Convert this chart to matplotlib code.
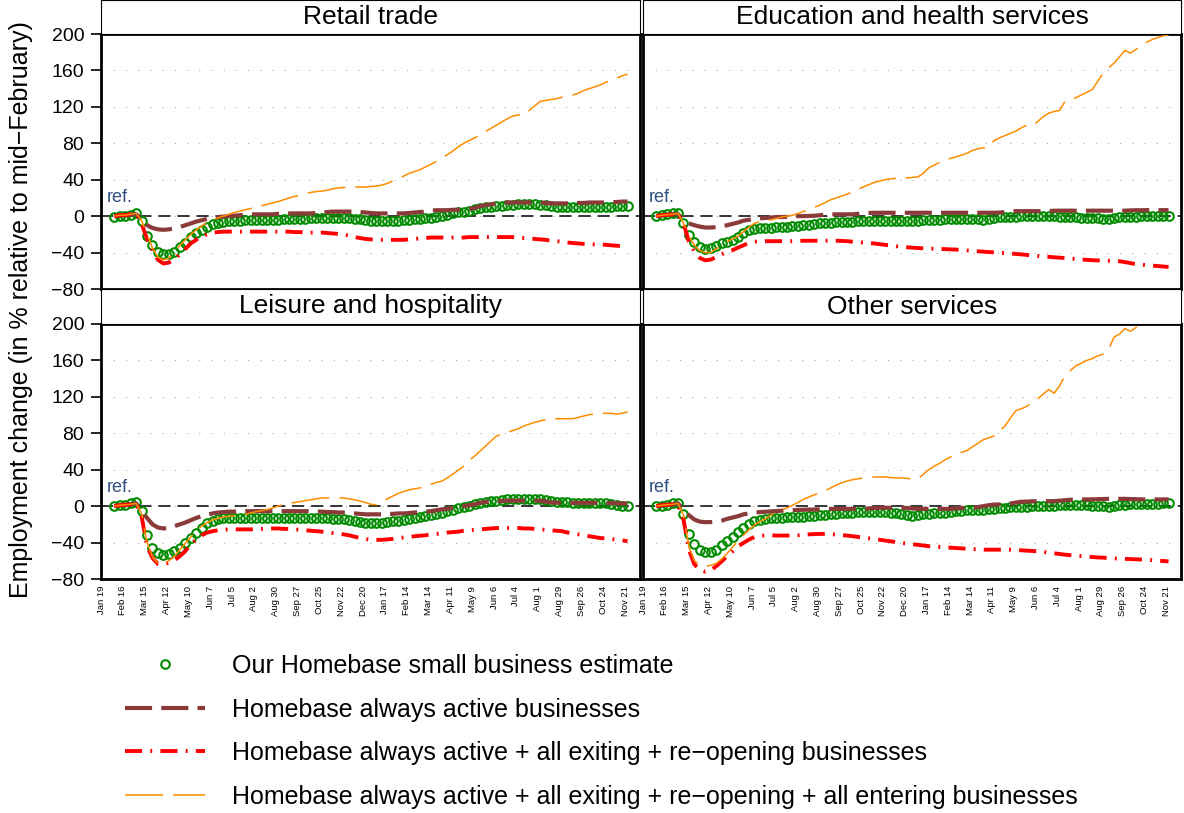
import numpy as np
import pandas as pd
import matplotlib
matplotlib.use("Agg")
import matplotlib.pyplot as plt
from matplotlib.lines import Line2D

plt.rcParams['font.family'] = ['Liberation Sans', 'DejaVu Sans']

# weekly observations, Feb 2020 - Nov 2021
weeks = pd.date_range("2020-02-05", periods=95, freq="7D")
tick_dates = pd.date_range("2020-01-19", periods=25, freq="28D")
tick_labels = [f"{d:%b} {d.day}" for d in tick_dates]
yticks = [-80, -40, 0, 40, 80, 120, 160, 200]

panel_titles = ["Retail trade", "Education and health services",
                "Leisure and hospitality", "Other services"]

legend_labels = [
    "Our Homebase small business estimate",
    "Homebase always active businesses",
    "Homebase always active + all exiting + re\u2212opening businesses",
    "Homebase always active + all exiting + re\u2212opening + all entering businesses",
]

# ---- Retail trade ----
retail_est = [-0.5, 0, 0, 1.5, 3, -5, -22, -32, -39, -42,
              -42, -39, -34, -29, -23, -19, -15, -12, -9, -7,
              -6, -5.5, -5, -5, -4.5, -4.5, -4, -4, -4, -4,
              -4, -3.5, -3.5, -3, -3, -3, -2.5, -2, -2, -2,
              -2, -2, -2, -2.5, -3, -3.5, -4, -5, -5, -5,
              -5, -5, -5, -4.5, -4, -3.5, -3, -2.5, -2, -1,
              0, 1.5, 3, 4, 5, 6, 7.5, 9, 10, 10.5,
              11, 11.5, 12, 12.5, 13, 13, 13, 13, 12.5, 12,
              11, 10.5, 10, 9.5, 9.5, 10, 10, 10, 10.5, 10.5,
              10.5, 10.5, 11, 11, 11]
retail_active = [0, 1, 1, 2, 2, -3, -10, -13, -14.5, -15,
                 -14.5, -13.5, -12, -10, -8, -6, -4.5, -3, -2, -1,
                 -0.5, 0, 0.5, 1, 1.5, 2, 2, 2, 2, 2,
                 2.5, 2.5, 3, 3, 3, 3, 3, 3.5, 4, 4.5,
                 5, 5, 5, 5, 5, 4.5, 4, 3.5, 3, 3,
                 3, 3, 3, 3, 3.5, 4, 4.5, 5, 6, 6.5,
                 6.5, 6.5, 7, 7, 7.5, 8, 9, 11, 12, 13,
                 14, 14.5, 15, 15, 15, 15, 15, 15, 15, 14.5,
                 14, 14, 14, 14, 14, 14.5, 14.5, 15, 15, 15,
                 15, 15.5, 15.5, 16, 16]
retail_exit = [0, 1, 1, 2, 3, -8, -25, -37, -48, -52,
               -51, -47, -42, -36, -30, -26, -22, -20, -18, -17.5,
               -17, -17, -17, -17, -17, -17, -17, -17, -17, -17,
               -17, -17, -17, -17.5, -17.5, -18, -18, -18, -18, -18.5,
               -19, -19.5, -20, -21.5, -23, -24, -25, -25.5, -26, -26,
               -26, -26, -26, -26, -25.5, -25, -24.5, -24, -23.5, -23.5,
               -23.5, -23.5, -23.5, -23.5, -23.5, -23, -23, -23, -23, -23,
               -23, -23, -23, -23, -23.5, -24, -24.5, -25, -25.5, -26,
               -27, -27.5, -28, -29, -29.5, -30, -30.5, -31, -31, -31,
               -31.5, -32, -32.5, -33, -34]
retail_enter = [0, 1, 1, 2, 3, -5, -20, -35, -45, -48,
                -46, -40, -32, -26, -20, -15, -11, -7, -4, -2,
                0, 2, 4, 5.5, 7, 8.5, 10, 11.5, 13, 14.5,
                16, 18, 20, 21.5, 23, 25, 26, 27, 27.5, 28.5,
                30, 31, 31.5, 32, 32, 32, 32, 32.5, 33, 34,
                36, 38.5, 41, 44, 47, 49, 51, 54, 57, 60,
                63.5, 67.5, 71.5, 76, 80, 83, 86, 89, 93, 96.5,
                100, 103.5, 107, 110, 111, 111, 116, 121, 126, 127,
                128, 129, 130.5, 132, 133, 135, 138, 140, 142, 144,
                147, 149, 151.5, 154, 156]

# ---- Education and health services ----
educ_est = [0, 1, 2, 3, 3, -7, -21, -28, -34, -36,
            -35.5, -33, -30, -28, -26, -23, -18, -15.5, -14, -13,
            -13, -12.5, -12, -12, -11.5, -11, -10.5, -10, -9.5, -9,
            -8, -7.5, -7, -6.5, -6.5, -6, -6, -5.5, -5.5, -5,
            -5, -5, -5, -5, -5.5, -5.5, -5.5, -5, -5, -4.5,
            -4.5, -4, -4, -3.5, -3.5, -3, -3, -3, -3.5, -3.5,
            -3.7, -3, -1.5, -1, -1, -0.7, -0.5, 0, 0, 0.2,
            0.4, 0.4, 0, 0, -0.5, -0.7, -1, -1, -1.5, -2,
            -2.5, -2.5, -3, -3, -2, -1, -0.7, -0.5, -0.5, -0.3,
            0, 0, 0, 0, 0]
educ_active = [0, 1, 1.5, 2, 2, -4, -8, -10, -11.5, -12.5,
               -12.5, -12, -11, -10, -8.5, -7, -5, -4, -3, -2.5,
               -2, -1.5, -1, -1, -0.7, -0.5, 0, 0, 0.2, 0.4,
               1, 1.5, 2, 2, 2, 2, 2, 2.5, 3, 3.5,
               3.7, 3.7, 3.7, 3.7, 3.7, 3.7, 3.7, 3.7, 3.7, 3.7,
               3.7, 3.7, 3.7, 3.7, 3.7, 3.7, 3.7, 3.7, 3.7, 3.7,
               3.7, 3.7, 3.7, 4, 4.5, 5, 5.5, 5.5, 5.5, 5.5,
               5.5, 5.5, 5.5, 6, 6, 6, 6, 6, 6, 6,
               6, 6, 6, 6, 6, 6, 6, 6.3, 6.5, 6.5,
               6.6, 6.6, 6.6, 6.6, 6.6]
educ_exit = [0, 1, 1.5, 2, 3, -8, -28, -39, -46, -48.5,
             -47.7, -45, -42, -39, -37.4, -34.5, -32, -29.4, -28, -27.7,
             -27.5, -27.5, -27.5, -27.5, -27.5, -27.5, -27.3, -27, -27, -27,
             -27, -27, -27, -27, -27.2, -27.5, -28, -28.5, -29, -29.5,
             -30, -30.8, -31.5, -32.3, -33, -33.8, -34.2, -34.6, -35, -35.3,
             -35.6, -35.8, -36, -36.2, -36.5, -36.7, -37.2, -37.7, -38.2, -38.6,
             -39, -39.4, -39.8, -40.2, -40.6, -41, -41.5, -42, -42.6, -43.2,
             -43.7, -44.2, -44.7, -45.2, -45.6, -46, -46.5, -47, -47.5, -48,
             -48.4, -48.6, -48.8, -49, -49.2, -49.5, -50.5, -51.5, -52.8, -53.3,
             -53.8, -54.3, -54.8, -55.3, -55.8]
educ_enter = [0, 1, 1.5, 2, 3, -8, -22, -32, -38, -40,
              -40, -36, -32, -28, -25, -22, -17, -12, -8, -6,
              -5, -4, -2.5, -1, 0, 1, 3, 5, 7, 9.5,
              12, 15, 18, 20, 22, 24, 27, 29.5, 32, 34.5,
              37, 38.5, 40, 41, 41.5, 41.5, 42, 42.5, 43, 47,
              53, 56, 59, 61.6, 63.5, 65, 67, 69, 72, 74,
              75, 76, 83, 86, 88.5, 91, 93.5, 97, 100, 99,
              104, 109, 113, 115, 116, 126, 128.5, 130, 133, 136,
              139, 148, 157, 163, 168, 175, 182, 179, 183, 187,
              191, 194, 196, 198, 199]

# ---- Leisure and hospitality ----
leisure_est = [0.5, 1, 1, 3, 4, -5, -32, -46, -51, -54,
               -53, -49.5, -46, -40, -35, -29, -24, -19, -16, -14,
               -13.5, -13.5, -13.5, -13.5, -13.5, -13.5, -13.5, -13.5, -13.5, -13.5,
               -13.5, -13.5, -13, -13, -13, -13, -13, -13, -13.5, -13.5,
               -14, -14, -14.5, -15, -16, -17, -18, -19, -19, -18.5,
               -17.5, -16.5, -16, -15, -14, -13.5, -12, -11, -10, -8.5,
               -7, -5.5, -4, -2.5, -1, 0.5, 2, 3.7, 4.5, 5.5,
               6, 7, 7.5, 8, 8, 8, 8, 8, 8, 7,
               5.5, 5, 4.5, 4, 3.7, 3.7, 3.7, 3.7, 3.5, 3.5,
               3, 2.5, 1.5, 0.5, 0]
leisure_active = [0, 1, 1, 2, 3, -5, -13, -20, -23.5, -24.5,
                  -24, -22, -20, -18, -15.5, -13, -11, -9.5, -8, -7,
                  -6.5, -6, -6, -5.5, -5.5, -5.5, -5.5, -5.5, -5.5, -5.5,
                  -5.5, -5.5, -5.5, -5.5, -5.5, -5.5, -5.5, -6, -6, -6.5,
                  -6.5, -7, -7, -7.5, -8, -8.5, -9, -9, -9, -9,
                  -8.5, -8.5, -8, -8, -7.5, -7, -6.5, -6, -5.5, -4.5,
                  -3.5, -3, -2, -1, 0, 1, 2, 3.7, 4.5, 5,
                  5.5, 5.5, 6, 6, 6, 6, 6, 6, 6, 5,
                  4, 3.7, 3.7, 3.7, 3.7, 3.7, 3.7, 3.7, 3.7, 3.7,
                  3.5, 3.5, 3, 3, 3]
leisure_exit = [0, 1, 1.5, 2, 3, -11, -44, -57, -63.5, -64,
                -62, -59.5, -55, -49.5, -42, -37, -32, -29, -27.5, -26.5,
                -26, -25.5, -25.5, -25.5, -25.5, -25.5, -25, -25, -24.5, -24.5,
                -24.5, -25, -25, -25.5, -26, -26.5, -27, -27.5, -28, -28.5,
                -29.5, -30, -31, -32, -33.5, -35, -36, -37, -37, -37,
                -36.5, -36, -35, -34.5, -34, -33, -32.5, -32, -31, -30.5,
                -30, -29, -28.5, -28, -27, -26.5, -26, -25.5, -25, -24.5,
                -24, -24, -24, -24, -24, -24.5, -24.5, -25, -25.5, -26,
                -26.5, -27, -27.5, -29, -30, -31, -32, -33, -34, -35,
                -35.5, -36, -37, -37.5, -38.5]
leisure_enter = [0, 1, 1.5, 2, 3, -8, -40, -56, -63, -64,
                 -60, -55, -48, -41, -34, -27, -22, -18, -15, -13.5,
                 -12, -11, -10.5, -10, -9, -7.5, -6, -5, -3.7, -2,
                 0, 1.5, 3, 4, 5, 6, 7, 8, 9, 9,
                 9, 9, 9, 8, 7, 5.5, 4, 2, 1.5, 5,
                 8, 11, 14, 16, 18, 19, 20, 22, 24, 26,
                 27.5, 31, 35, 39.5, 44, 50, 55, 60.5, 66, 71.5,
                 77, 79, 81, 83, 85, 88, 90, 92, 93.5, 95,
                 96, 96, 96, 96, 96, 97.5, 99, 100.5, 101, 101.5,
                 102, 102, 101, 102, 103.5]

# ---- Other services ----
other_est = [0, 0, 1, 3, 3, -9, -31, -42, -48, -50,
             -50, -48, -43, -38.6, -34, -28.7, -24, -20, -16.5, -14.7,
             -14, -13.5, -13, -12.5, -12.3, -12, -11.8, -11.5, -11, -10.5,
             -10, -9.5, -9, -8.5, -8, -7.4, -7, -6.5, -6, -6,
             -6, -6.2, -6.6, -7.5, -8, -9, -10, -11, -10, -9,
             -8.4, -8, -7.4, -7, -6.5, -5.5, -5, -4.7, -4.3, -4,
             -3.7, -3.2, -2.7, -2.2, -1.6, -1, -0.8, -0.6, -0.4, -0.2,
             0, 0.2, 0.5, 0.7, 0.9, 1, 1, 1, 0.9, 0.8,
             0.7, 0.3, 0, -0.7, 0, 1, 1.8, 2, 2.2, 2.4,
             2.5, 2.6, 2.8, 3, 3]
other_active = [0, 1, 1.5, 2, 3, -4, -10, -14.7, -17, -17.6,
                -17.5, -17, -16, -14, -12.5, -11, -9, -8, -7, -6.6,
                -6.2, -5.8, -5.4, -5, -4.8, -4.5, -4.2, -4, -3.8, -3.7,
                -3.5, -3.2, -3, -3, -3, -3, -3, -3, -3, -2.5,
                -2, -1.8, -1.8, -1.8, -1.8, -1.8, -2, -2.5, -3, -3,
                -3, -3, -3, -3, -3, -2.5, -2, -1.8, -1.8, -1,
                0, 1, 1.8, 1.8, 2, 3, 4, 4.8, 5, 5.3,
                5.5, 5.5, 5.5, 5.5, 6, 6.5, 7, 7.4, 7.4, 7.4,
                7.4, 7.6, 7.8, 8, 8, 8, 8, 7.8, 7.6, 7.4,
                7.4, 7.4, 7.4, 7.4, 7.4]
other_exit = [0, 1, 1.5, 2, 2, -14.7, -48, -64, -70, -72,
              -70.6, -66, -60.7, -55, -49.6, -44, -40.4, -36.8, -33.8, -32.8,
              -32, -32, -32.3, -32.3, -32.3, -32.3, -32, -31.5, -31, -30.7,
              -30.5, -30.5, -30.8, -31.2, -31.8, -32.3, -33, -33.8, -34.6, -35.3,
              -36, -36.9, -37.8, -38.6, -39.5, -40.4, -41.1, -41.8, -42.5, -43.2,
              -44, -44.4, -44.8, -45.2, -45.6, -46, -46.4, -46.8, -47.2, -47.5,
              -47.8, -47.8, -47.8, -47.8, -47.8, -47.8, -48.2, -48.5, -48.9, -49.2,
              -49.6, -50.3, -51, -51.8, -52.5, -53.3, -53.8, -54.3, -54.9, -55.4,
              -55.9, -56.3, -56.6, -57, -57.3, -57.7, -57.9, -58.1, -58.4, -58.6,
              -58.8, -59.3, -59.8, -60.2, -60.7]
other_enter = [0, 1, 1.5, 2, 3, -10, -45, -60, -65, -66,
               -65, -63, -58, -52, -45, -38, -32, -26, -21, -17,
               -14, -10, -6.6, -4, -2, 1, 4, 7.5, 10, 12.5,
               14.5, 17, 20, 23, 25.5, 27.5, 29, 30, 31, 31.5,
               32, 32, 32, 31.5, 31, 31, 30.5, 29.5, 30, 35,
               40, 44, 47, 51, 54, 57, 59, 61, 65, 69,
               73, 75, 77, 83, 88, 97, 104.8, 107, 109.6, 114,
               118, 123, 128, 124, 132, 143, 149, 154, 157, 160,
               162, 165, 167, 172, 185.7, 189, 195, 192, 196, 200,
               206, 209, 212, 215, 218]

panel_data = [
    (retail_est, retail_active, retail_exit, retail_enter),
    (educ_est, educ_active, educ_exit, educ_enter),
    (leisure_est, leisure_active, leisure_exit, leisure_enter),
    (other_est, other_active, other_exit, other_enter),
]

GREEN = "#008b00"
BROWN = "#8b3a3a"
RED = "#ff0000"
ORANGE = "#ff8c00"
BROWN_DASH = (6.5, 2.2)
RED_DASH = (4.4, 2.1, 0.5, 2.1)
ORANGE_DASH = (25, 6.5)

W, H = 1184, 813
fig = plt.figure(figsize=(W / 100, H / 100), dpi=100)

# panel rectangles in pixels
lefts = [(101, 640), (643, 1181)]
rows = [(0, 34, 289), (289, 324, 579)]  # strip top, plot top, plot bottom


def fx(px):
    return px / W


def fy(py):
    return 1 - py / H


xmin = pd.Timestamp("2020-01-19")
xmax = pd.Timestamp("2021-12-10")

for i, (title, series) in enumerate(zip(panel_titles, panel_data)):
    r, c = divmod(i, 2)
    x0, x1 = lefts[c]
    st, pt, pb = rows[r]
    ax = fig.add_axes([fx(x0), fy(pb), fx(x1 - x0), (pb - pt) / H])
    sax = fig.add_axes([fx(x0), fy(pt), fx(x1 - x0), (pt - st) / H])

    # strip
    sax.set_xticks([])
    sax.set_yticks([])
    for s in sax.spines.values():
        s.set_linewidth(0.8)
    sax.text(0.5, 0.5, title, ha="center", va="center", fontsize=19,
             transform=sax.transAxes)

    est, active, exiting, entering = series

    for y in yticks:
        ax.axhline(y, color="#aaaaaa", lw=0.8, ls=(0, (1, 10)), zorder=1)
    ax.axhline(0, color="black", lw=1.1, dashes=(8, 4.5), zorder=2)

    ax.plot(weeks, est, ls="none", marker="o", mfc="none", mec=GREEN,
            ms=6.2, mew=1.5, zorder=3)
    ax.plot(weeks, active, color=BROWN, lw=3, dashes=BROWN_DASH, zorder=4)
    ax.plot(weeks, exiting, color=RED, lw=2.8, dashes=RED_DASH, zorder=5)
    ax.plot(weeks, entering, color=ORANGE, lw=1.1, dashes=ORANGE_DASH,
            zorder=6)

    ax.text(0.01, 20, "ref.", color="#2f4f7f", fontsize=13, ha="left",
            va="center", transform=ax.get_yaxis_transform())

    ax.set_xlim(xmin, xmax)
    ax.set_ylim(-80, 200)
    for s in ax.spines.values():
        s.set_linewidth(2)

    ax.set_yticks(yticks)
    if c == 0:
        ax.tick_params(axis="y", length=7, width=1.2, labelsize=14, pad=5)
    else:
        ax.tick_params(axis="y", length=0, labelleft=False)

    ax.set_xticks(tick_dates)
    if r == 1:
        ax.set_xticklabels(tick_labels, rotation=90, fontsize=6.8)
        ax.tick_params(axis="x", length=0, pad=5)
    else:
        ax.tick_params(axis="x", length=0, labelbottom=False)

fig.text(fx(21), fy(310), "Employment change (in % relative to mid\u2212February)",
         rotation=90, ha="center", va="center", fontsize=18)

handles = [
    Line2D([], [], ls="none", marker="o", mfc="none", mec=GREEN, ms=6.2, mew=1.5),
    Line2D([], [], color=BROWN, lw=3, dashes=BROWN_DASH),
    Line2D([], [], color=RED, lw=2.8, dashes=RED_DASH),
    Line2D([], [], color=ORANGE, lw=1.1, dashes=ORANGE_DASH),
]
fig.legend(handles, legend_labels, loc="upper left",
           bbox_to_anchor=(fx(125), fy(654)), frameon=False, fontsize=18,
           handlelength=3.2, handletextpad=1.1, labelspacing=0.78,
           borderpad=0, borderaxespad=0, numpoints=1)

fig.savefig("out.png", dpi=100)
